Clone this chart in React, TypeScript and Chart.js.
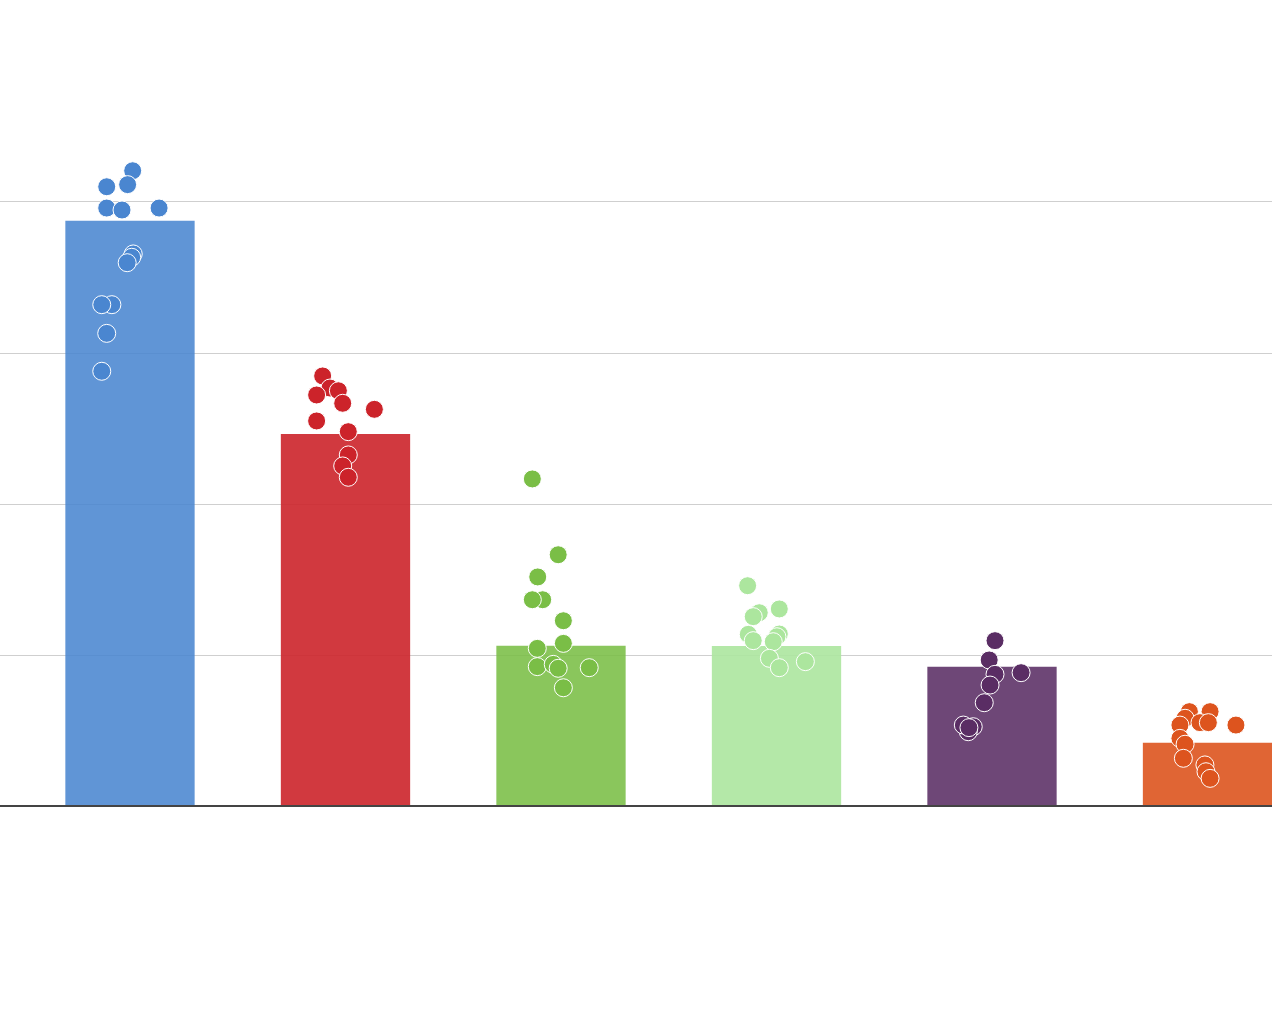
import React, { useEffect, useRef } from "react";
import { Chart, registerables } from "chart.js";

Chart.register(...registerables);

const categories = ["A", "B", "C", "D", "E", "F"];
const barValues = [38.76, 24.64, 10.62, 10.6, 9.23, 4.19];
const pointColors = [
  "rgb(74,134,208)",
  "rgb(204,35,42)",
  "rgb(122,190,70)",
  "rgb(172,230,158)",
  "rgb(90,45,100)",
  "rgb(221,84,30)",
];
const barColors = [
  "rgba(74,134,208,0.88)",
  "rgba(204,35,42,0.9)",
  "rgba(122,190,70,0.88)",
  "rgba(172,230,158,0.9)",
  "rgba(90,45,100,0.88)",
  "rgba(221,84,30,0.9)",
];

// [offset within category, value]
const pointsA: [number, number][] = [
  [0.0125, 42.07], [-0.108, 41.01], [-0.011, 41.15], [-0.108, 39.6], [-0.037, 39.47], [0.135, 39.6],
  [0.015, 36.56], [0.008, 36.34], [-0.013, 35.98], [-0.084, 33.2], [-0.131, 33.2], [-0.108, 31.3], [-0.131, 28.79],
];
const pointsB: [number, number][] = [
  [-0.106, 28.48], [-0.072, 27.68], [-0.033, 27.5], [-0.134, 27.22], [-0.013, 26.67], [0.134, 26.27],
  [-0.134, 25.5], [0.013, 24.79], [0.013, 23.25], [-0.013, 22.52], [0.013, 21.77],
];
const pointsC: [number, number][] = [
  [-0.133, 21.66], [-0.013, 16.64], [-0.108, 15.17], [-0.085, 13.66], [-0.133, 13.66], [0.011, 12.27],
  [0.011, 10.77], [-0.11, 10.44], [-0.11, 9.23], [-0.036, 9.38], [-0.013, 9.12], [0.131, 9.16], [0.011, 7.83],
];
const pointsD: [number, number][] = [
  [-0.134, 14.59], [0.013, 13.05], [-0.08, 12.8], [-0.108, 12.54], [0.013, 11.39], [-0.131, 11.37],
  [-0.108, 10.95], [0.002, 11.21], [-0.015, 10.88], [-0.033, 9.78], [0.013, 9.16], [0.134, 9.56],
];
const pointsE: [number, number][] = [
  [0.014, 10.95], [-0.013, 9.67], [0.014, 8.72], [0.135, 8.83], [-0.009, 8.01], [-0.036, 6.84],
  [-0.087, 5.25], [-0.11, 4.92], [-0.133, 5.36], [-0.107, 5.19],
];
const pointsF: [number, number][] = [
  [0.012, 6.25], [-0.084, 6.25], [-0.104, 5.81], [-0.035, 5.52], [0.004, 5.52], [0.132, 5.36],
  [-0.128, 5.36], [-0.128, 4.48], [-0.104, 4.09], [-0.112, 3.16], [-0.012, 2.72], [-0.007, 2.27], [0.012, 1.83],
];
const pointGroups = [pointsA, pointsB, pointsC, pointsD, pointsE, pointsF];

const yMax = 50;
const yStep = 10;
const xMin = -0.6032;
const xMax = 5.2993;

export default function App() {
  const ref = useRef<HTMLCanvasElement | null>(null);

  useEffect(() => {
    if (!ref.current) return;
    const scatterSets = pointGroups.map((pts, i) => ({
      type: "scatter" as const,
      label: categories[i] + " points",
      data: pts.map(([dx, v]) => ({ x: i + dx, y: v })),
      backgroundColor: pointColors[i],
      borderColor: "#ffffff",
      borderWidth: 1,
      pointRadius: 9,
      pointHoverRadius: 9,
      order: 0,
      clip: false as any,
    }));
    const chart = new Chart(ref.current, {
      type: "bar",
      data: {
        datasets: [
          ...scatterSets,
          {
            type: "bar" as const,
            label: "bars",
            data: barValues.map((v, i) => ({ x: i, y: v })),
            backgroundColor: barColors,
            borderWidth: 0,
            categoryPercentage: 1,
            barPercentage: 0.6,
            order: 1,
          } as any,
        ],
      },
      options: {
        animation: false,
        responsive: false,
        layout: { autoPadding: false, padding: { left: 0, right: 8, top: 51, bottom: 222 } },
        plugins: { legend: { display: false }, tooltip: { enabled: false } },
        scales: {
          x: {
            type: "linear",
            min: xMin,
            max: xMax,
            offset: false,
            display: false,
            ticks: { stepSize: 1, includeBounds: false },
          },
          y: {
            type: "linear",
            min: 0,
            max: yMax,
            border: { display: false },
            ticks: { display: false, stepSize: yStep },
            grid: {
              drawTicks: false,
              color: (ctx: any) =>
                ctx.tick && ctx.tick.value === 0
                  ? "#444444"
                  : ctx.tick && ctx.tick.value >= yMax
                  ? "rgba(0,0,0,0)"
                  : "#cfcfcf",
              lineWidth: (ctx: any) => (ctx.tick && ctx.tick.value === 0 ? 2 : 1),
            },
          },
        },
      } as any,
    });
    return () => chart.destroy();
  }, []);

  return (
    <div style={{ position: "fixed", left: 0, top: 0, width: 1280, height: 1028, background: "#fff" }}>
      <canvas ref={ref} width={1280} height={1028} style={{ display: "block" }} />
    </div>
  );
}
